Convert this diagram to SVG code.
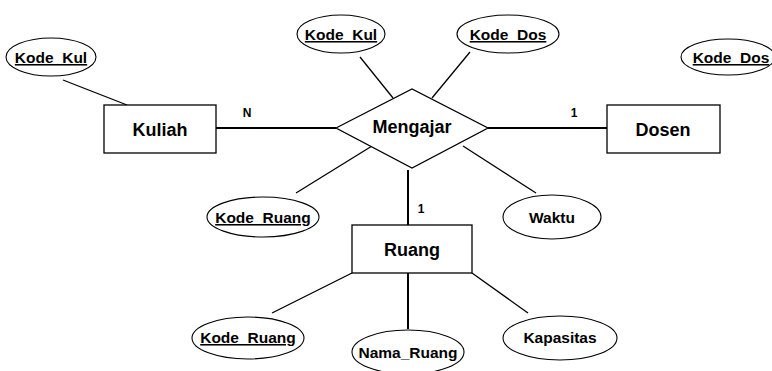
<svg xmlns="http://www.w3.org/2000/svg" width="772" height="371" viewBox="0 0 772 371">
<style>
.bg{fill:#fff}
.ent{fill:#fff;stroke:#000;stroke-width:1.3}
.att{fill:#fff;stroke:#000;stroke-width:1.1}
.t{font-family:"Liberation Sans",Arial,sans-serif;font-weight:bold;fill:#000;text-anchor:middle}
.big{font-size:18px}
.sm{font-size:15.5px}
.lab{font-size:12px}
.key{text-decoration:underline;text-decoration-thickness:2px}
.ln{stroke:#000;stroke-width:1.3;fill:none}
.thick{stroke:#000;stroke-width:2;fill:none}
</style>
<rect class="bg" x="0" y="0" width="772" height="371"/>
<g id="connectors">
<line class="ln" x1="63" y1="80" x2="127" y2="105"/>
<line class="thick" x1="216" y1="128" x2="336" y2="128"/>
<line class="thick" x1="488" y1="128" x2="607" y2="128"/>
<line class="ln" x1="360" y1="57" x2="393" y2="98"/>
<line class="ln" x1="470" y1="52" x2="432" y2="98"/>
<line class="ln" x1="372" y1="146" x2="296" y2="193"/>
<line class="ln" x1="463" y1="146" x2="536" y2="193"/>
<line class="thick" x1="408" y1="170" x2="408" y2="225"/>
<line class="ln" x1="352" y1="273" x2="272" y2="313"/>
<line class="thick" x1="408" y1="273" x2="408" y2="329"/>
<line class="ln" x1="472" y1="273" x2="528" y2="313"/>
<text class="t lab" x="247" y="117">N</text>
<text class="t lab" x="574" y="117">1</text>
<text class="t lab" x="421" y="213">1</text>
</g>
<g id="kuliah">
<rect class="ent" x="104" y="105" width="112" height="48"/>
<text class="t big" x="160" y="136">Kuliah</text>
</g>
<g id="dosen">
<rect class="ent" x="607" y="105" width="113" height="48"/>
<text class="t big" x="663" y="136">Dosen</text>
</g>
<g id="mengajar">
<polygon class="ent" points="336,128 412,89 488,128 412,168"/>
<text class="t big" x="412" y="133">Mengajar</text>
</g>
<g id="ruang">
<rect class="ent" x="352" y="225" width="120" height="48"/>
<text class="t big" x="412" y="256">Ruang</text>
</g>
<g id="kuliah-kode-kul">
<ellipse class="att" cx="51" cy="57" rx="45" ry="19"/>
<text class="t sm key" x="51" y="63">Kode_Kul</text>
</g>
<g id="mengajar-kode-kul">
<ellipse class="att" cx="341" cy="34" rx="44" ry="19"/>
<text class="t sm key" x="341" y="40">Kode_Kul</text>
</g>
<g id="mengajar-kode-dos">
<ellipse class="att" cx="508" cy="34" rx="51" ry="19"/>
<text class="t sm key" x="508" y="40">Kode_Dos</text>
</g>
<g id="dosen-kode-dos">
<ellipse class="att" cx="728" cy="57" rx="47" ry="18"/>
<text class="t sm key" x="731" y="63">Kode_Dos</text>
</g>
<g id="mengajar-kode-ruang">
<ellipse class="att" cx="263" cy="217" rx="56" ry="20"/>
<text class="t sm key" x="263" y="223">Kode_Ruang</text>
</g>
<g id="waktu">
<ellipse class="att" cx="552" cy="217" rx="49" ry="22"/>
<text class="t sm" x="552" y="223">Waktu</text>
</g>
<g id="ruang-kode-ruang">
<ellipse class="att" cx="248" cy="338" rx="56" ry="21"/>
<text class="t sm key" x="248" y="343">Kode_Ruang</text>
</g>
<g id="nama-ruang">
<ellipse class="att" cx="408" cy="352" rx="56" ry="22"/>
<text class="t sm" x="408" y="358">Nama_Ruang</text>
</g>
<g id="kapasitas">
<ellipse class="att" cx="560" cy="338" rx="57" ry="22"/>
<text class="t sm" x="560" y="343">Kapasitas</text>
</g>
</svg>
